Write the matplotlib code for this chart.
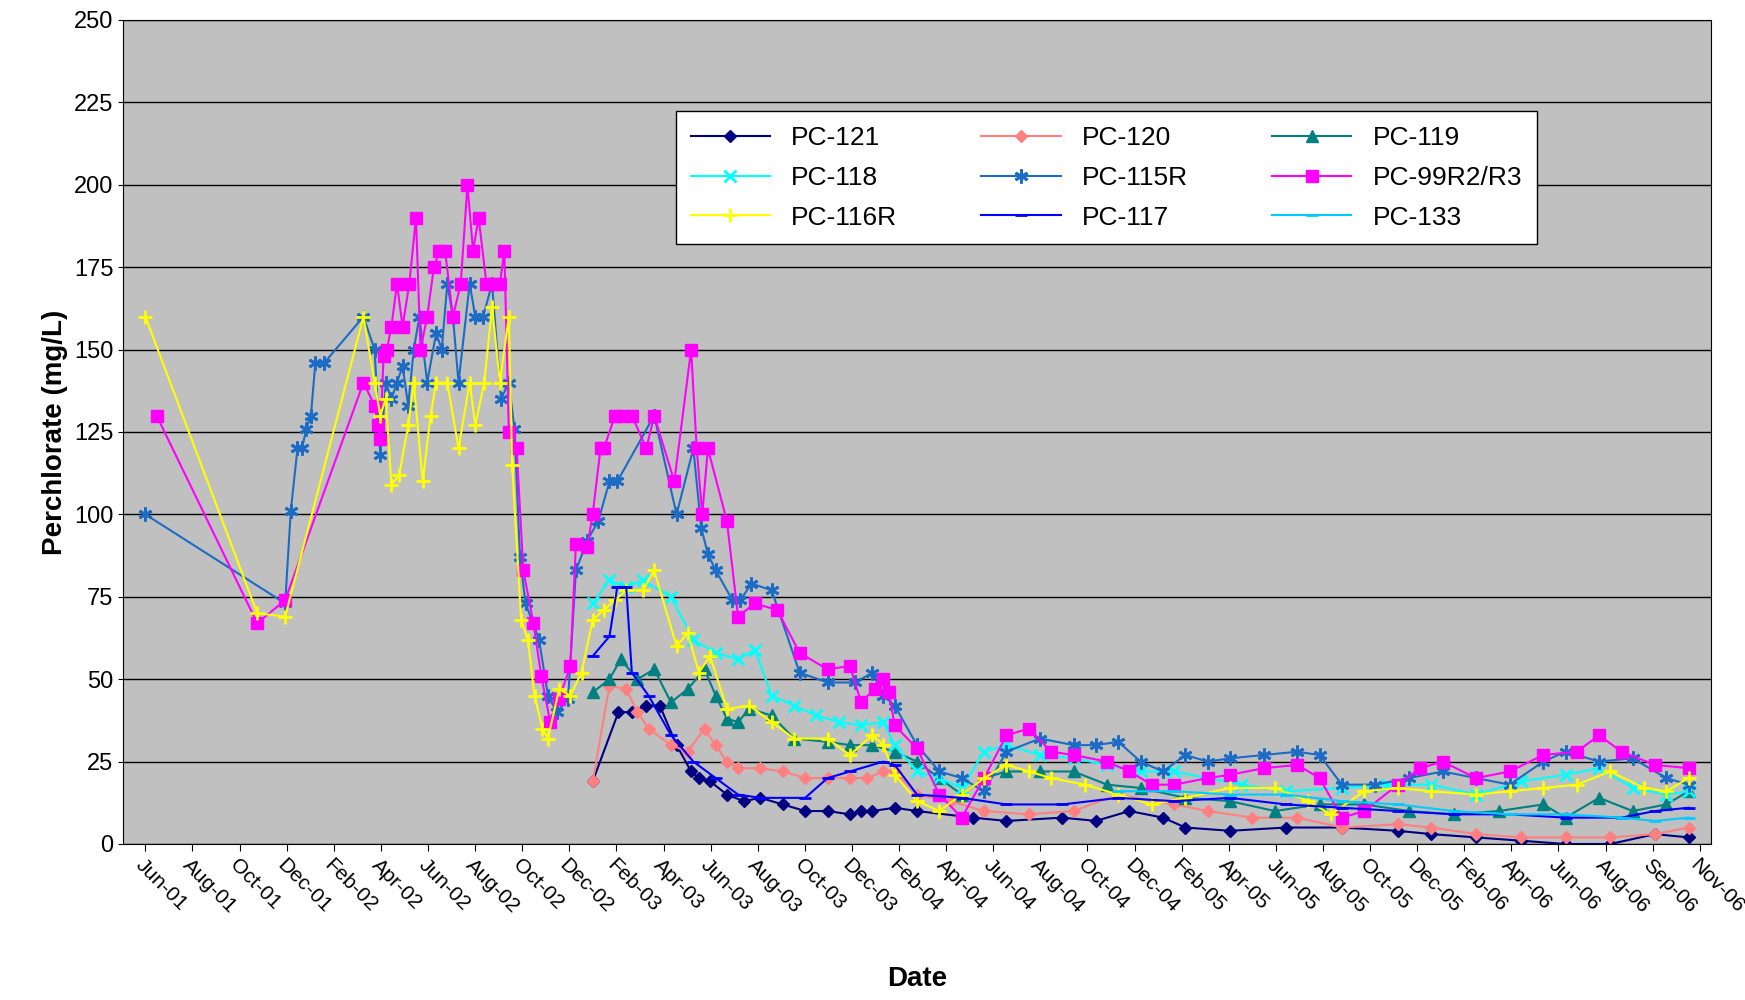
import numpy as np
import matplotlib
matplotlib.use('Agg')
from matplotlib import pyplot as plt

plt.rcParams['font.family'] = ['Liberation Sans', 'DejaVu Sans']

# x values: weeks since 1 Jun 2001
tick_labels = ['Jun-01', 'Aug-01', 'Oct-01', 'Dec-01', 'Feb-02', 'Apr-02', 'Jun-02', 'Aug-02',
               'Oct-02', 'Dec-02', 'Feb-03', 'Apr-03', 'Jun-03', 'Aug-03', 'Oct-03', 'Dec-03',
               'Feb-04', 'Apr-04', 'Jun-04', 'Aug-04', 'Oct-04', 'Dec-04', 'Feb-05', 'Apr-05',
               'Jun-05', 'Aug-05', 'Oct-05', 'Dec-05', 'Feb-06', 'Apr-06', 'Jun-06', 'Aug-06',
               'Sep-06', 'Nov-06']

pc121_w = [80, 84.6, 87, 89.6, 92, 95, 97.6, 99, 101, 104, 107, 110, 114, 118, 122, 126, 128, 130, 134,
           138, 148, 154, 164, 170, 176, 182, 186, 194, 204, 214, 224, 230, 238, 246, 254, 262, 270, 276]
pc121_v = [19, 40, 40, 42, 42, 30, 22, 20, 19, 15, 13, 14, 12, 10, 10, 9, 10, 10, 11,
           10, 8, 7, 8, 7, 10, 8, 5, 4, 5, 5, 4, 3, 2, 1, 0, 0, 3, 2]

pc120_w = [80, 83, 86, 88, 90, 94, 97, 100, 102, 104, 106, 110, 114, 118, 122, 126, 129, 132, 134,
           138, 144, 150, 158, 166, 174, 184, 190, 198, 206, 214, 224, 230, 238, 246, 254, 262, 270, 276]
pc120_v = [19, 48, 47, 40, 35, 30, 28, 35, 30, 25, 23, 23, 22, 20, 20, 20, 20, 22, 22,
           15, 13, 10, 9, 10, 15, 12, 10, 8, 8, 5, 6, 5, 3, 2, 2, 2, 3, 5]

pc119_w = [80, 83, 85, 88, 91, 94, 97, 100, 102, 104, 106, 108, 112, 116, 122, 126, 130, 134, 138,
           142, 146, 150, 154, 160, 166, 172, 178, 186, 194, 202, 210, 218, 226, 234, 242, 250, 254,
           260, 266, 272, 276]
pc119_v = [46, 50, 56, 50, 53, 43, 47, 53, 45, 38, 37, 41, 39, 32, 31, 30, 30, 28, 25,
           20, 15, 20, 22, 22, 22, 18, 17, 14, 13, 10, 12, 12, 10, 9, 10, 12, 8,
           14, 10, 12, 16]

pc118_w = [80, 83, 86, 89, 94, 98, 102, 106, 109, 112, 116, 120, 124, 128, 132, 134, 138, 142, 146,
           150, 154, 160, 166, 172, 178, 184, 190, 196, 204, 214, 222, 230, 238, 246, 254, 260,
           266, 272, 276]
pc118_v = [73, 80, 78, 80, 75, 62, 58, 56, 59, 45, 42, 39, 37, 36, 37, 30, 22, 20, 17,
           28, 30, 27, 26, 24, 22, 22, 20, 18, 16, 17, 18, 18, 15, 19, 21, 23,
           17, 15, 16]

pc115r_w = [0, 25, 26, 27.2, 28, 28.8, 29.6, 30.4, 32, 39, 41, 42, 43, 44, 45, 46, 47, 48, 49,
            50.4, 52, 53, 54, 55, 56, 58, 59, 60.4, 62, 63.6, 65, 66, 67, 68, 70.4, 72, 73.6,
            75.6, 77, 79, 81, 83, 84.4, 91, 95, 98, 99.4, 100.6, 102, 105, 106.4, 108.4, 112,
            117, 122, 127, 130, 132, 134, 138, 142, 146, 150, 154, 160, 166, 170, 174, 178, 182,
            186, 190, 194, 200, 206, 210, 214, 220, 226, 232, 238, 244, 250, 254, 260, 266, 272, 276]
pc115r_v = [100, 73, 101, 120, 120, 126, 130, 146, 146, 160, 150, 118, 140, 135, 140, 145, 133, 150, 160,
            140, 155, 150, 170, 160, 140, 170, 160, 160, 170, 135, 140, 126, 87, 73, 62, 45, 40,
            44, 83, 92, 98, 110, 110, 130, 100, 120, 96, 88, 83, 74, 74, 79, 77,
            52, 49, 49, 52, 45, 42, 30, 22, 20, 16, 28, 32, 30, 30, 31, 25, 22,
            27, 25, 26, 27, 28, 27, 18, 18, 20, 22, 20, 18, 25, 28, 25, 26, 20, 18]

pc99_w = [2, 20, 25, 39, 41, 41.6, 42, 42.6, 43.2, 44, 45, 46, 47.2, 48.4, 49.2, 50.4, 51.6, 52.6,
          53.6, 55, 56.4, 57.6, 58.6, 59.6, 61, 62.4, 63.4, 64.2, 65, 66.4, 67.6, 69.4, 70.8,
          72.4, 74, 76, 77, 79, 80, 81.4, 82, 84, 85.2, 87, 89.6, 91, 94.6, 97.6, 98.6, 99.6,
          100.6, 104, 106, 109, 113, 117, 122, 126, 128, 130.4, 132, 133, 134, 138, 142, 146,
          150, 154, 158, 162, 166, 172, 176, 180, 184, 190, 194, 200, 206, 210, 214, 218, 224,
          228, 232, 238, 244, 250, 256, 260, 264, 270, 276]
pc99_v = [130, 67, 74, 140, 133, 127, 123, 148, 150, 157, 170, 157, 170, 190, 150, 160, 175, 180,
          180, 160, 170, 200, 180, 190, 170, 170, 170, 180, 125, 120, 83, 67, 51,
          37, 44, 54, 91, 90, 100, 120, 120, 130, 130, 130, 120, 130, 110, 150, 120, 100,
          120, 98, 69, 73, 71, 58, 53, 54, 43, 47, 50, 46, 36, 29, 15, 8,
          20, 33, 35, 28, 27, 25, 22, 18, 18, 20, 21, 23, 24, 20, 8, 10, 18,
          23, 25, 20, 22, 27, 28, 33, 28, 24, 23]

pc116r_w = [0, 20, 25, 39, 41, 42, 43, 44, 45.4, 47, 48, 49.6, 51, 52, 54, 56, 58, 59, 60.6, 62,
            63.4, 65, 65.6, 67.2, 68.4, 69.6, 71, 72, 74, 76, 78, 80, 82, 84, 86, 89, 91, 95, 97,
            99, 101, 104, 108, 112, 116, 122, 126, 130, 132, 134, 138, 142, 146, 150, 154, 158,
            162, 168, 174, 180, 186, 194, 202, 208, 212, 218, 224, 230, 238, 244, 250, 256, 262,
            268, 272, 276]
pc116r_v = [160, 70, 69, 160, 140, 130, 135, 109, 112, 127, 140, 110, 130, 140, 140, 120, 140, 127,
            140, 163, 140, 160, 115, 68, 62, 45, 35, 32, 47, 45, 52, 68, 71, 74, 77, 77, 83, 60, 64,
            52, 57, 41, 42, 37, 32, 32, 27, 33, 30, 21, 13, 10, 15, 20, 24, 22,
            20, 18, 15, 12, 14, 17, 17, 13, 9, 16, 17, 16, 15, 16, 17, 18, 22,
            17, 16, 20]

pc117_w = [80, 83, 84.4, 86, 87, 90, 94, 98, 102, 106, 110, 118, 122, 126, 132, 134, 138, 146, 154,
           164, 174, 184, 194, 204, 214, 224, 234, 244, 254, 264, 270, 276]
pc117_v = [57, 63, 78, 78, 52, 45, 33, 25, 20, 15, 14, 14, 20, 22, 25, 24, 15, 14, 12,
           12, 14, 13, 14, 12, 11, 10, 9, 9, 8, 8, 10, 11]

pc133_w = [174, 184, 194, 204, 214, 224, 234, 244, 254, 264, 270, 276]
pc133_v = [16, 16, 15, 15, 13, 12, 10, 9, 9, 8, 7, 8]

series = [
    ('PC-121', pc121_w, pc121_v, '#000080', 'D', 6),
    ('PC-120', pc120_w, pc120_v, '#FF8080', 'D', 6),
    ('PC-119', pc119_w, pc119_v, '#008080', '^', 8),
    ('PC-118', pc118_w, pc118_v, '#00FFFF', 'x', 8),
    ('PC-115R', pc115r_w, pc115r_v, '#1C6BC4', (6, 2, 0), 10),
    ('PC-99R2/R3', pc99_w, pc99_v, '#FF00FF', 's', 8),
    ('PC-116R', pc116r_w, pc116r_v, '#FFFF00', '+', 10),
    ('PC-117', pc117_w, pc117_v, '#0000FF', '_', 9),
    ('PC-133', pc133_w, pc133_v, '#00CCFF', '_', 9),
]

fig = plt.figure(figsize=(17.45, 10), dpi=100)
ax = fig.add_axes([0.0705, 0.156, 0.910, 0.824])
ax.set_facecolor('#C0C0C0')

lines = []
for name, w, v, col, mk, ms in series:
    ln, = ax.plot(w, v, color=col, marker=mk, markersize=ms, linewidth=1.5, label=name,
                  markeredgewidth=2 if mk in ('x', '+', '_') or isinstance(mk, tuple) else 1)
    lines.append(ln)

ax.set_xlim(-4, 280)
ax.set_ylim(0, 250)
ax.set_yticks(np.arange(0, 251, 25))
ax.yaxis.grid(True, color='black', linewidth=1)
ax.set_axisbelow(True)
ax.set_xticks(np.linspace(0, 278, len(tick_labels)))
ax.set_xticklabels(tick_labels, rotation=-45, ha='left', rotation_mode='anchor', fontsize=15)
ax.tick_params(axis='y', labelsize=17)
ax.tick_params(axis='x', direction='out', length=5)
ax.set_ylabel('Perchlorate (mg/L)', fontsize=20, fontweight='bold')
ax.set_xlabel('Date', fontsize=20, fontweight='bold', labelpad=35)

# legend filled row by row, as in the reference
order = [0, 3, 6, 1, 4, 7, 2, 5, 8]
leg = ax.legend([lines[i] for i in order], [series[i][0] for i in order], ncol=3,
                loc='upper left', bbox_to_anchor=(0.34, 0.905), fontsize=19,
                frameon=True, fancybox=False, edgecolor='black', columnspacing=3.2,
                handlelength=3, labelspacing=0.6, borderpad=0.55, framealpha=1)
leg.get_frame().set_facecolor('white')

fig.savefig('out.png', dpi=100)
